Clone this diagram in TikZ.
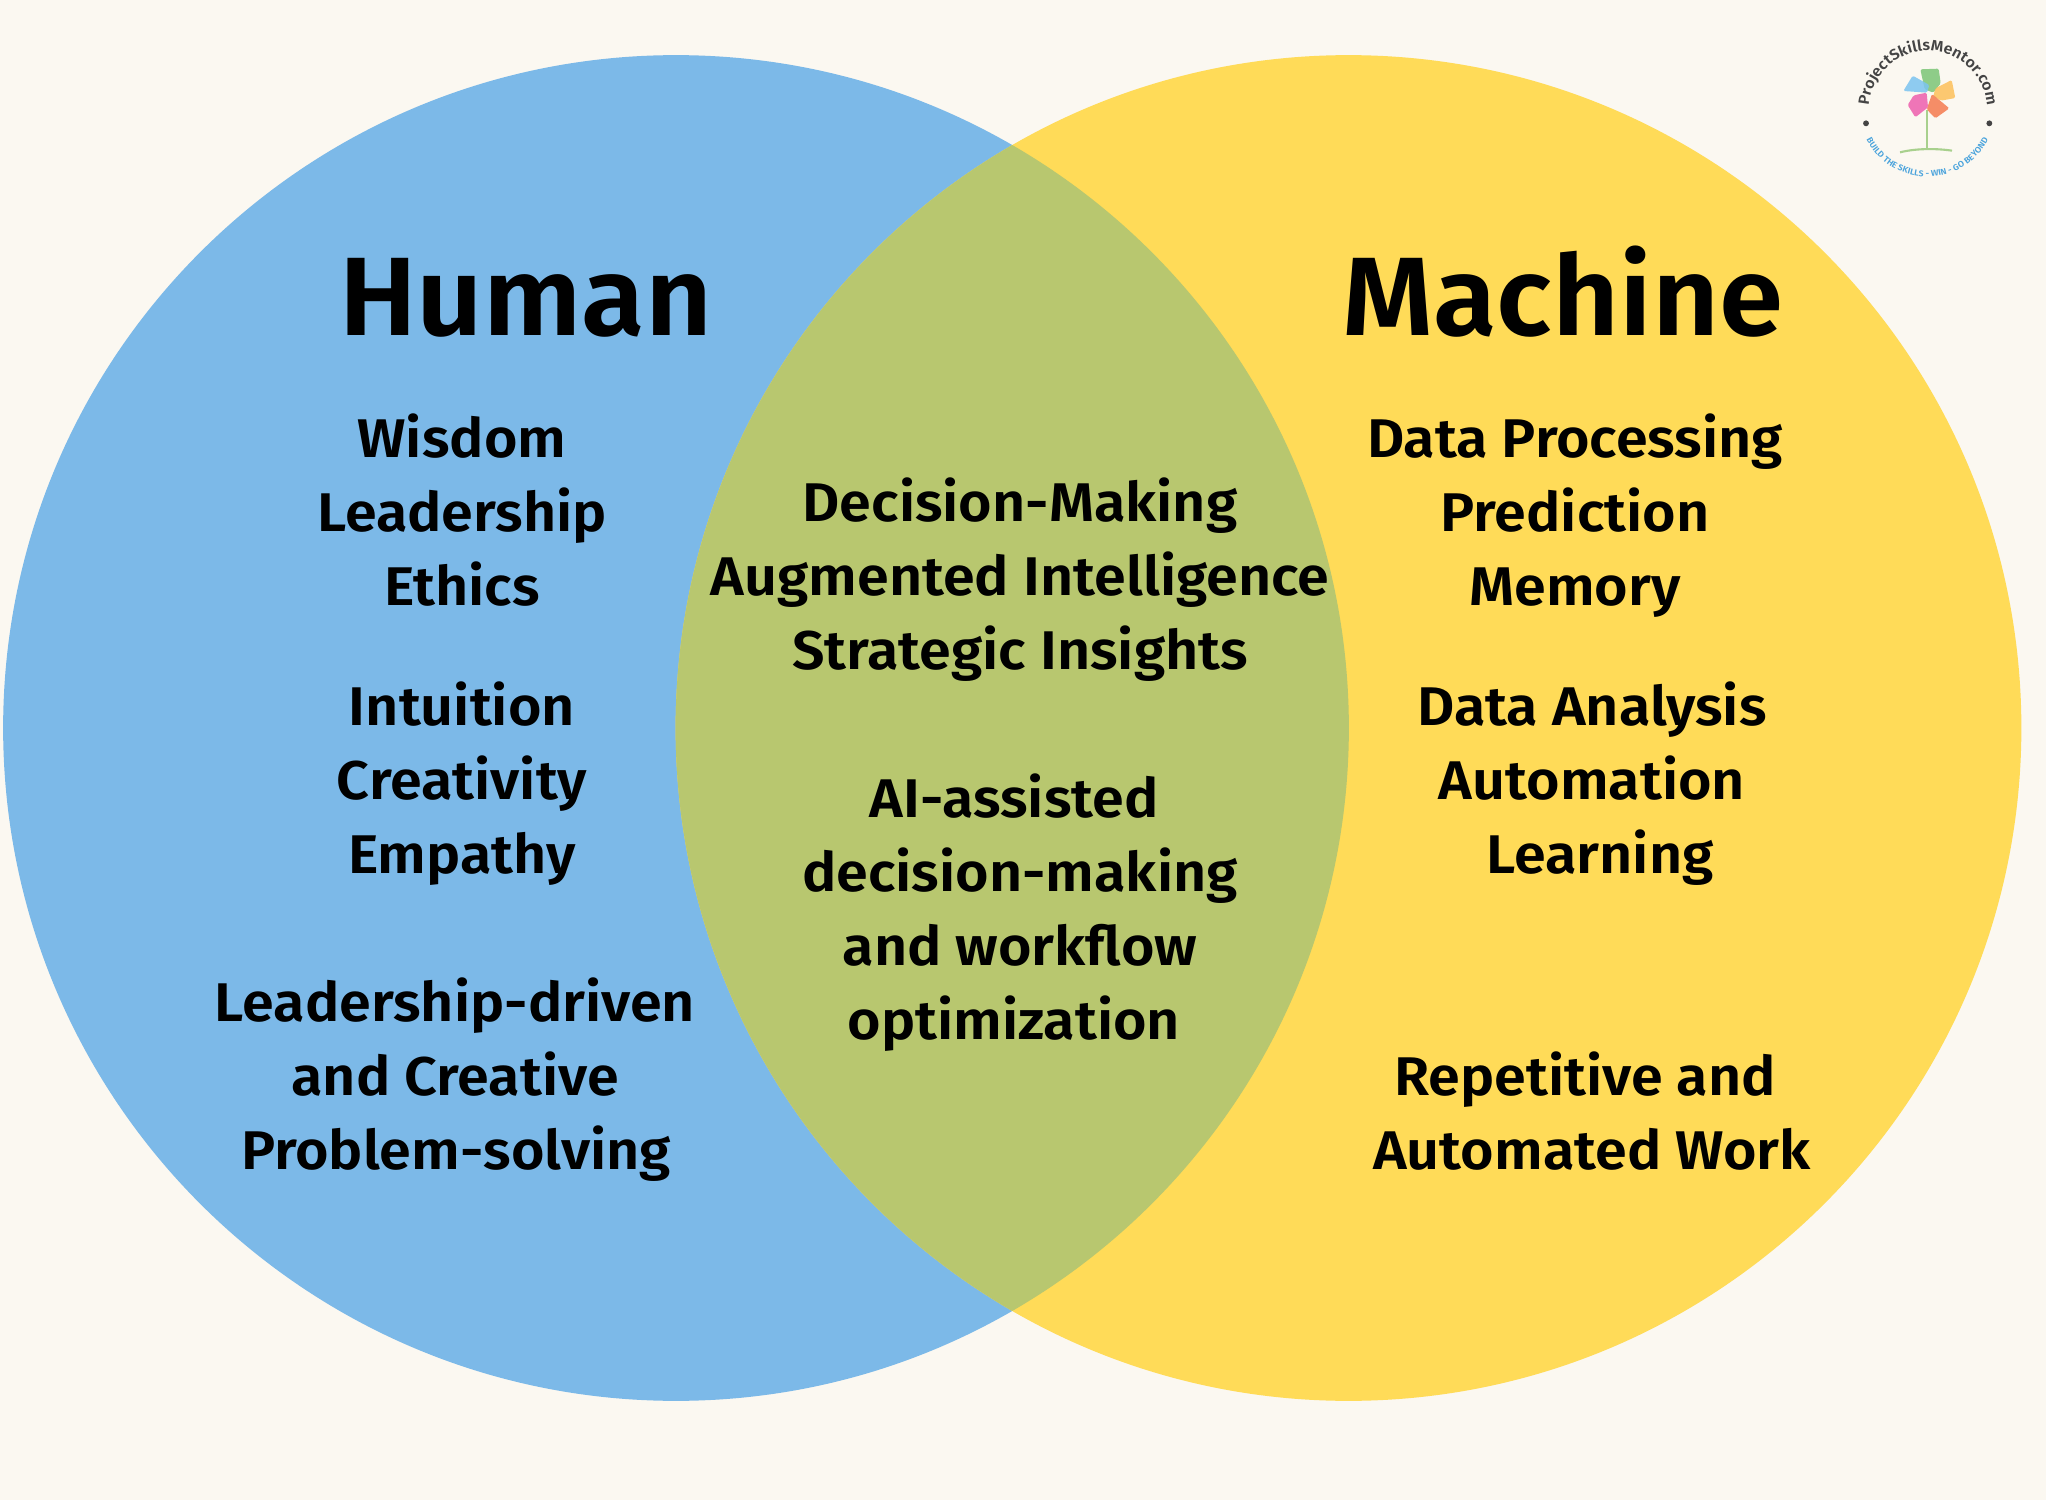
\documentclass[tikz,border=0pt]{standalone}
\usepackage{fontspec}
\setmainfont{Fira Sans}
\newfontfamily\itemfont{Fira Sans SemiBold}[FakeStretch=1.055]
\newfontfamily\headfont{Fira Sans SemiBold}[FakeStretch=1.04]
\usetikzlibrary{decorations.text}
\definecolor{bgc}{HTML}{FBF8F1}
\definecolor{blueC}{HTML}{7CB9E8}
\definecolor{yellowC}{HTML}{FFDB58}
\definecolor{overlapC}{HTML}{B8C76F}
\definecolor{petalG}{HTML}{7CC576}
\definecolor{petalO}{HTML}{FDC05A}
\definecolor{petalR}{HTML}{F47B50}
\definecolor{petalP}{HTML}{EE5FAE}
\definecolor{petalB}{HTML}{7CC4F0}
\definecolor{logoGreen}{HTML}{A8D08D}
\definecolor{logoBlue}{HTML}{4AA3DC}
\definecolor{logoGray}{HTML}{444444}
\tikzset{
  head/.style={anchor=base,inner sep=0pt,font=\headfont\fontsize{63.5}{70}\selectfont,text=black},
  item/.style={anchor=base,inner sep=0pt,font=\itemfont\fontsize{31}{36}\selectfont,text=black},
  petal/.style={rounded corners=0.8pt,opacity=.85,draw=none}
}
\begin{document}
\begin{tikzpicture}[x=0.02cm,y=-0.02cm]
\path[use as bounding box,fill=bgc] (0,0) rectangle (2046,1500);
\coordinate (LC) at (676,728);
\coordinate (RC) at (1348.5,728);
\fill[blueC] (LC) circle[radius=13.46cm];
\fill[yellowC] (RC) circle[radius=13.46cm];
\begin{scope}
  \clip (LC) circle[radius=13.46cm];
  \fill[overlapC] (RC) circle[radius=13.46cm];
\end{scope}
\node[head] (human) at (526,336) {Human};
\node[head] (machine) at (1563,336) {Machine};
\node[item] (h1) at (462,458) {Wisdom};
\node[item] (h2) at (462,531) {Leadership};
\node[item] (h3) at (462,605) {Ethics};
\node[item] (h4) at (462,725) {Intuition};
\node[item] (h5) at (462,799) {Creativity};
\node[item] (h6) at (462,873) {Empathy};
\node[item] (h7) at (455,1021) {Leadership-driven};
\node[item] (h8) at (455,1095) {and Creative};
\node[item] (h9) at (456,1169) {Problem-solving};
\node[item] (c1) at (1020,521) {Decision-Making};
\node[item] (c2) at (1020,595) {Augmented Intelligence};
\node[item] (c3) at (1020,669) {Strategic Insights};
\node[item] (c4) at (1014,817) {AI-assisted};
\node[item] (c5) at (1020,891) {decision-making};
\node[item] (c6) at (1020,965) {and workflow};
\node[item] (c7) at (1014,1039) {optimization};
\node[item] (m1) at (1575,458) {Data Processing};
\node[item] (m2) at (1575,531) {Prediction};
\node[item] (m3) at (1575,605) {Memory};
\node[item] (m4) at (1592,725) {Data Analysis};
\node[item] (m5) at (1592,799) {Automation};
\node[item] (m6) at (1600,873) {Learning};
\node[item] (m7) at (1585,1095) {Repetitive and};
\node[item] (m8) at (1592,1169) {Automated Work};
% logo
\begin{scope}[shift={(1826,20)},scale=1/3]
  \draw[logoGreen,line width=1pt] (302,270)--(302,385);
  \draw[logoGreen,line width=1.2pt] (222,397) .. controls (270,385) and (330,385) .. (378,392);
  \fill[petal,fill=petalG] (283,148)--(338,146)--(344,190)--(322,218)--(296,208)--cycle;
  \fill[petal,fill=petalO] (328,205)--(377,180)--(388,234)--(345,242)--(322,228)--cycle;
  \fill[petal,fill=petalR] (318,222)--(370,265)--(328,295)--(302,268)--cycle;
  \fill[petal,fill=petalP] (302,218)--(306,262)--(268,292)--(245,255)--(263,226)--cycle;
  \fill[petal,fill=petalB] (260,167)--(310,195)--(303,218)--(232,213)--cycle;
  \fill[logoGray] (120,310) circle[radius=5pt];
  \fill[logoGray] (490,310) circle[radius=5pt];
  \coordinate (topStart) at (128,270);
  \coordinate (botStart) at (125,365);
  \path[decorate,decoration={text along path,text align=center,
    text={|\itemfont\fontsize{8.6}{9}\selectfont\color{logoGray}|ProjectSkillsMentor.com}}]
    (topStart) arc[start angle=180,end angle=0,radius=3.55cm];
  \path[decorate,decoration={text along path,text align=center,
    text={|\itemfont\fontsize{4.8}{5}\selectfont\color{logoBlue}|BUILD THE SKILLS - WIN - GO BEYOND}}]
    (botStart) arc[start angle=209,end angle=331,radius=4.1cm];
\end{scope}
\end{tikzpicture}
\end{document}
